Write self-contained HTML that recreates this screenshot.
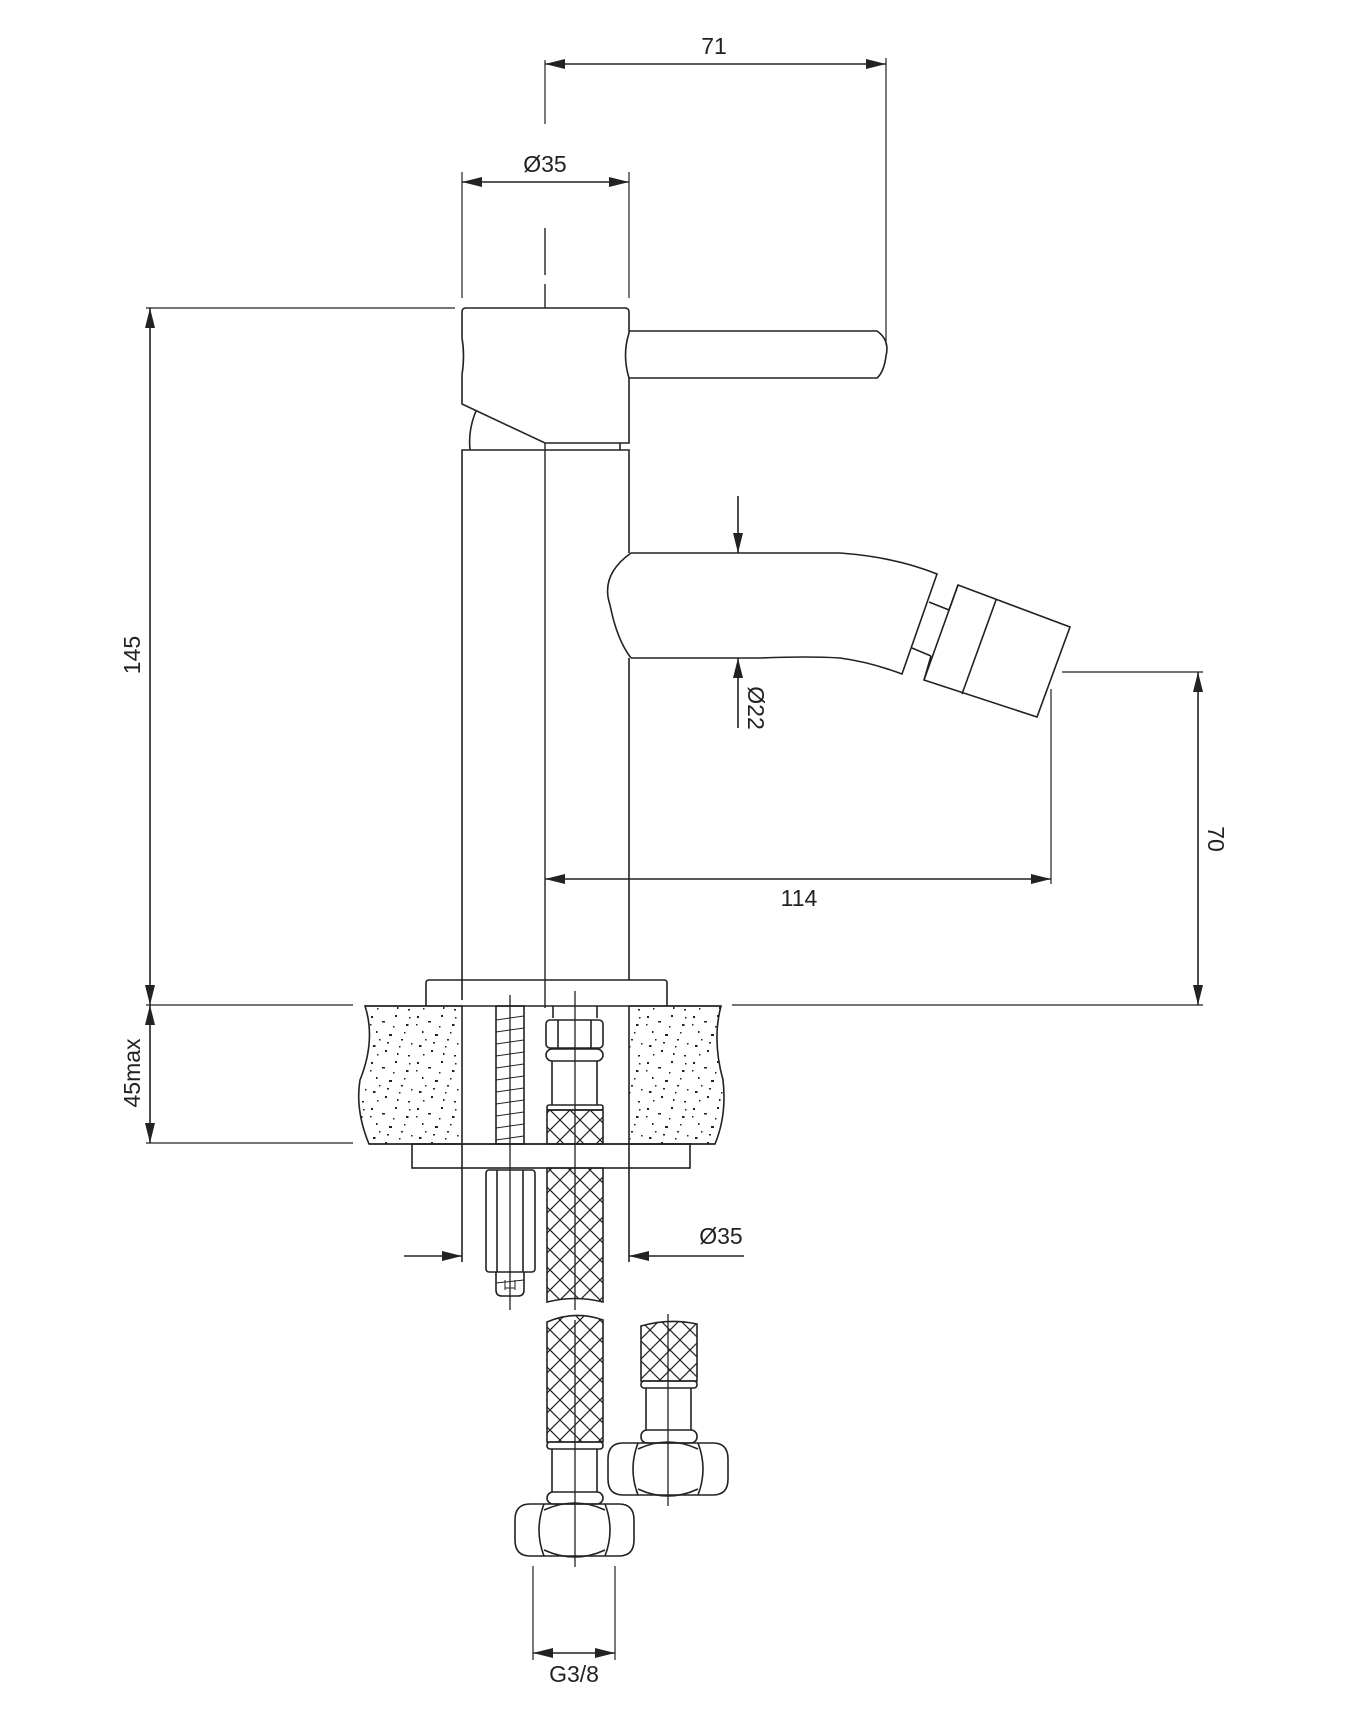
<!DOCTYPE html>
<html><head><meta charset="utf-8"><style>
html,body{margin:0;padding:0;background:#fff;}
svg{display:block;}
text{font-family:"Liberation Sans",sans-serif;font-size:23px;fill:#222;}
</style></head><body>
<svg width="1354" height="1722" viewBox="0 0 1354 1722" xmlns="http://www.w3.org/2000/svg">
<defs>
<marker id="a" viewBox="0 0 20 10" refX="20" refY="5" markerWidth="20" markerHeight="10" markerUnits="userSpaceOnUse" orient="auto-start-reverse"><path d="M0,0 L20,5 L0,10 z" fill="#222"/></marker>
<pattern id="sp" width="46" height="46" patternUnits="userSpaceOnUse">
<g fill="#222">
<rect x="3" y="4" width="2" height="2"/><rect x="14" y="9" width="3" height="1.5"/><rect x="27" y="3" width="2" height="2"/><rect x="38" y="12" width="2.5" height="2"/>
<rect x="8" y="19" width="1.5" height="2"/><rect x="21" y="22" width="3" height="2"/><rect x="33" y="27" width="2" height="1.5"/><rect x="43" y="31" width="1.5" height="1.5"/>
<rect x="5" y="33" width="2.5" height="2"/><rect x="17" y="38" width="2" height="2"/><rect x="29" y="41" width="1.5" height="2"/><rect x="40" y="43" width="2" height="1.5"/>
<rect x="11" y="27" width="1.5" height="1.5"/><rect x="25" y="14" width="1.5" height="1.5"/><rect x="36" y="20" width="1.5" height="1.5"/><rect x="2" y="12" width="1.5" height="1.5"/>
<rect x="19" y="30" width="2" height="1.5"/><rect x="31" y="34" width="1.5" height="1.5"/><rect x="9" y="42" width="1.5" height="1.5"/><rect x="41" y="5" width="1.5" height="1.5"/>
</g></pattern>
<pattern id="x" width="20" height="20" patternUnits="userSpaceOnUse">
<path d="M0,0 L20,20 M20,0 L0,20" stroke="#222" stroke-width="1.2" fill="none"/>
</pattern>
</defs>
<g stroke="#222" stroke-width="1.6" fill="none">
<line x1="545" y1="60" x2="545" y2="124" stroke-width="1.2"/>
<line x1="886" y1="58" x2="886" y2="345" stroke-width="1.2"/>
<line x1="545" y1="64" x2="886" y2="64" marker-start="url(#a)" marker-end="url(#a)"/>
<line x1="462" y1="172" x2="462" y2="298" stroke-width="1.2"/>
<line x1="629" y1="172" x2="629" y2="298" stroke-width="1.2"/>
<line x1="462" y1="182" x2="629" y2="182" marker-start="url(#a)" marker-end="url(#a)"/>
<line x1="545" y1="228" x2="545" y2="275" stroke-width="1.4"/>
<line x1="545" y1="284" x2="545" y2="1008" stroke-width="1.4"/>
<line x1="146" y1="308" x2="455" y2="308" stroke-width="1.2"/>
<line x1="150" y1="308" x2="150" y2="1005" marker-start="url(#a)" marker-end="url(#a)"/>
<path d="M466,308 L625,308 Q629,308 629,312 L629,333 Q622,355 629,378 L629,443 L545,443 L462,404 L462,375 Q465,355 462,338 L462,312 Q462,308 466,308 Z" fill="#fff"/>
<path d="M476,411 Q468,430 470,450"/>
<line x1="620" y1="443" x2="620" y2="450"/>
<path d="M629,331 L877,331 Q890,340 886,356 Q884,372 877,378 L629,378"/>
<path d="M462,1000 L462,450 L629,450 L629,553 M629,658 L629,980"/>
<path d="M631,553 Q600,575 610,605 Q617,640 631,658" />
<path d="M631,553 L840,553 Q895,557 937,574 L902,674 Q870,662 840,658 Q810,656 760,658 L631,658"/>
<path d="M929,602 L949,610 M912,648 L931,656 M949,610 L958,585 M931,656 L924,680"/>
<path d="M958,585 L1070,627 L1037,717 L924,680 Z"/>
<line x1="996" y1="600" x2="962" y2="694"/>
<line x1="738" y1="496" x2="738" y2="553" marker-end="url(#a)"/>
<line x1="738" y1="728" x2="738" y2="658" marker-end="url(#a)"/>
<line x1="1051" y1="689" x2="1051" y2="884" stroke-width="1.2"/>
<line x1="545" y1="879" x2="1051" y2="879" marker-start="url(#a)" marker-end="url(#a)"/>
<line x1="1062" y1="672" x2="1203" y2="672" stroke-width="1.2"/>
<line x1="1198" y1="672" x2="1198" y2="1005" marker-start="url(#a)" marker-end="url(#a)"/>
<line x1="146" y1="1005" x2="353" y2="1005" stroke-width="1.2"/>
<line x1="732" y1="1005" x2="1203" y2="1005" stroke-width="1.2"/>
<line x1="146" y1="1143" x2="353" y2="1143" stroke-width="1.2"/>
<line x1="150" y1="1005" x2="150" y2="1143" marker-start="url(#a)" marker-end="url(#a)"/>
<path d="M426,1006 L426,983 Q426,980 429,980 L664,980 Q667,980 667,983 L667,1006"/>
<path d="M365,1006 L462,1006 L462,1144 L369,1144 Q355,1110 360,1080 Q376,1040 365,1006 Z" fill="url(#sp)"/>
<path d="M629,1006 L721,1006 Q712,1040 723,1080 Q727,1115 715,1144 L629,1144 Z" fill="url(#sp)"/>
<line x1="365" y1="1006" x2="721" y2="1006"/>
<line x1="369" y1="1144" x2="715" y2="1144"/>
<rect x="496" y="1006" width="28" height="138"/>
<path d="M496,1020 L524,1016 M496,1032 L524,1028 M496,1044 L524,1040 M496,1056 L524,1052 M496,1068 L524,1064 M496,1080 L524,1076 M496,1092 L524,1088 M496,1104 L524,1100 M496,1116 L524,1112 M496,1128 L524,1124 M496,1140 L524,1136" stroke-width="1"/>
<line x1="510" y1="995" x2="510" y2="1310" stroke-width="1.3"/>
<path d="M553,1006 L553,1018 M597,1006 L597,1018"/>
<rect x="546" y="1020" width="57" height="28" rx="4"/>
<line x1="558" y1="1020" x2="558" y2="1048"/><line x1="591" y1="1020" x2="591" y2="1048"/>
<rect x="546" y="1049" width="57" height="12" rx="6"/>
<path d="M552,1061 L552,1105 M597,1061 L597,1105"/>
<rect x="547" y="1105" width="56" height="5" rx="2"/>
<rect x="547" y="1110" width="56" height="34" fill="url(#x)"/>
<line x1="575" y1="991" x2="575" y2="1310" stroke-width="1.3"/>
<rect x="412" y="1144" width="278" height="24"/>
<path d="M462,1144 L462,1262 M629,1144 L629,1262"/>
<rect x="486" y="1170" width="49" height="102" rx="3"/>
<line x1="497" y1="1170" x2="497" y2="1272"/><line x1="523" y1="1170" x2="523" y2="1272"/>
<path d="M496,1272 L496,1290 Q496,1296 502,1296 L518,1296 Q524,1296 524,1290 L524,1272"/>
<path d="M496,1283 L524,1280 M505,1288 L515,1288 M505,1280 L505,1290 M515,1280 L515,1290" stroke-width="1"/>
<path d="M547,1168 L547,1302 Q575,1295 603,1302 L603,1168 Z" fill="url(#x)"/>
<line x1="404" y1="1256" x2="462" y2="1256" marker-end="url(#a)"/>
<line x1="744" y1="1256" x2="629" y2="1256" marker-end="url(#a)"/>
<path d="M547,1442 L547,1322 Q575,1310 603,1320 L603,1442 Z" fill="url(#x)"/>
<rect x="547" y="1442" width="56" height="7" rx="3"/>
<path d="M552,1449 L552,1492 M597,1449 L597,1492"/>
<rect x="547" y="1492" width="56" height="12" rx="6"/>
<path d="M530,1504 L619,1504 Q634,1504 634,1520 L634,1540 Q634,1556 619,1556 L530,1556 Q515,1556 515,1540 L515,1520 Q515,1504 530,1504 Z"/>
<path d="M544,1504 Q534,1530 544,1556 M605,1504 Q615,1530 605,1556 M544,1510 Q575,1496 605,1510 M544,1550 Q575,1564 605,1550"/>
<line x1="575" y1="1320" x2="575" y2="1567" stroke-width="1.3"/>
<path d="M641,1381 L641,1326 Q669,1318 697,1324 L697,1381 Z" fill="url(#x)"/>
<rect x="641" y="1381" width="56" height="7" rx="3"/>
<path d="M646,1388 L646,1430 M691,1388 L691,1430"/>
<rect x="641" y="1430" width="56" height="13" rx="6"/>
<path d="M623,1443 L713,1443 Q728,1443 728,1459 L728,1479 Q728,1495 713,1495 L623,1495 Q608,1495 608,1479 L608,1459 Q608,1443 623,1443 Z"/>
<path d="M638,1443 Q628,1469 638,1495 M698,1443 Q708,1469 698,1495 M638,1449 Q668,1435 698,1449 M638,1489 Q668,1503 698,1489"/>
<line x1="668" y1="1314" x2="668" y2="1506" stroke-width="1.3"/>
<line x1="533" y1="1566" x2="533" y2="1660" stroke-width="1.2"/>
<line x1="615" y1="1566" x2="615" y2="1660" stroke-width="1.2"/>
<line x1="533" y1="1653" x2="615" y2="1653" marker-start="url(#a)" marker-end="url(#a)"/>
</g>
<text x="714" y="54" text-anchor="middle">71</text>
<text x="545" y="172" text-anchor="middle">Ø35</text>
<text x="799" y="906" text-anchor="middle">114</text>
<text x="721" y="1244" text-anchor="middle">Ø35</text>
<text x="574" y="1682" text-anchor="middle">G3/8</text>
<text transform="translate(140,655) rotate(-90)" text-anchor="middle">145</text>
<text transform="translate(140,1073) rotate(-90)" text-anchor="middle">45max</text>
<text transform="translate(748,708) rotate(90)" text-anchor="middle">Ø22</text>
<text transform="translate(1208,839) rotate(90)" text-anchor="middle">70</text>
</svg>
</body></html>
